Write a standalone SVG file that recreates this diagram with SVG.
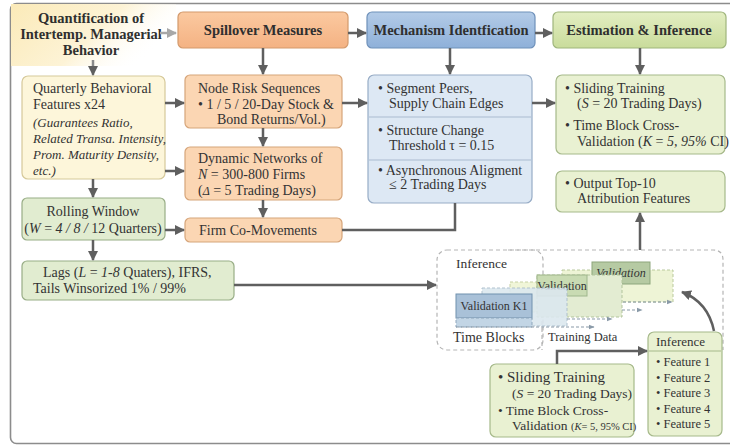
<svg xmlns="http://www.w3.org/2000/svg" width="730" height="446" viewBox="0 0 730 446">
<defs>
<linearGradient id="gY" x1="0" y1="0" x2="1" y2="0.4"><stop offset="0" stop-color="#fbeab8"/><stop offset="0.6" stop-color="#fdf3d6"/><stop offset="1" stop-color="#ffffff" stop-opacity="0"/></linearGradient>
<linearGradient id="gO" x1="0" y1="0" x2="0" y2="1"><stop offset="0" stop-color="#fbc9a0"/><stop offset="1" stop-color="#f4b283"/></linearGradient>
<linearGradient id="gB" x1="0" y1="0" x2="0" y2="1"><stop offset="0" stop-color="#b3cbe7"/><stop offset="1" stop-color="#8eb0d9"/></linearGradient>
<linearGradient id="gG" x1="0" y1="0" x2="0" y2="1"><stop offset="0" stop-color="#e3eec2"/><stop offset="1" stop-color="#c9dc9b"/></linearGradient>
<marker id="ah" viewBox="0 0 10 10" refX="9" refY="5" markerWidth="4" markerHeight="4" orient="auto"><path d="M0,0 L10,5 L0,10 z" fill="#5f5f5f"/></marker>
<marker id="ahl" viewBox="0 0 10 10" refX="9" refY="5" markerWidth="4" markerHeight="4" orient="auto"><path d="M0,0 L10,5 L0,10 z" fill="#a8a8a8"/></marker>
<marker id="ahs" viewBox="0 0 10 10" refX="9" refY="5" markerWidth="5" markerHeight="5" orient="auto"><path d="M0,1 L10,5 L0,9 z" fill="#8a9aa8"/></marker>
</defs>
<style>
text{font-family:"Liberation Serif","DejaVu Serif",serif;fill:#333;}
.t{font-size:14px;}
.h{font-size:14.5px;font-weight:bold;text-anchor:middle;fill:#2f2f2f;}
.i{font-size:13px;font-style:italic;}
.s{font-size:12.5px;}
.c{text-anchor:middle;}
.or{fill:#fbd6b3;stroke:#d6a57a;stroke-width:1.2;}
.bl{fill:#dde8f4;stroke:#97acc6;stroke-width:1.2;}
.gr{fill:#e9f1d2;stroke:#a6b98a;stroke-width:1.2;}
.gg{fill:#e1ecd0;stroke:#98ad86;stroke-width:1.2;}
.yl{fill:#fdf6da;stroke:#d6c99a;stroke-width:1.2;}
.cn{fill:none;stroke:#5f5f5f;stroke-width:2.5;}
.dsh{fill:none;stroke:#b5b5b5;stroke-width:1.2;stroke-dasharray:4 3;}
.da{fill:none;stroke:#8a9aa8;stroke-width:1.2;stroke-dasharray:3 2;}
</style>
<rect width="730" height="446" fill="#ffffff"/>
<rect x="10.5" y="3.5" width="730" height="440" rx="6" fill="none" stroke="#8c8c8c" stroke-width="1.6"/>

<g id="header-quantification">
<rect x="11" y="4" width="165" height="62" fill="url(#gY)"/>
<text class="h" x="91" y="23">Quantification of</text>
<text class="h" x="91" y="39">Intertemp. Managerial</text>
<text class="h" x="91" y="55">Behavior</text>
</g>
<g id="header-spillover">
<rect x="178" y="12" width="170" height="36" rx="5" fill="url(#gO)" stroke="#d39a6c" stroke-width="1.2"/>
<text class="h" x="263" y="35">Spillover Measures</text>
</g>
<g id="header-mechanism">
<rect x="367" y="12" width="168" height="36" rx="5" fill="url(#gB)" stroke="#6f91ba" stroke-width="1.2"/>
<text class="h" x="451" y="35">Mechanism Identfication</text>
</g>
<g id="header-estimation">
<rect x="553" y="12" width="173" height="36" rx="5" fill="url(#gG)" stroke="#9fb57c" stroke-width="1.2"/>
<text class="h" x="639" y="35">Estimation &amp; Inference</text>
</g>

<g id="quarterly">
<rect class="yl" x="22" y="76" width="143" height="103" rx="6"/>
<text class="t" x="33" y="93">Quarterly Behavioral</text>
<text class="t" x="33" y="109">Features x24</text>
<text class="i" x="33" y="127">(Guarantees Ratio,</text>
<text class="i" x="33" y="143">Related Transa. Intensity,</text>
<text class="i" x="33" y="159">Prom. Maturity Density,</text>
<text class="i" x="33" y="175">etc.)</text>
</g>
<g id="node-risk">
<rect class="or" x="185" y="75" width="157" height="53" rx="5"/>
<text class="t" x="198" y="93">Node Risk Sequences</text>
<text class="t" x="198" y="109">• 1 / 5 / 20-Day Stock &amp;</text>
<text class="t" x="217" y="124">Bond Returns/Vol.)</text>
</g>
<g id="dynamic-networks">
<rect class="or" x="185" y="147" width="157" height="53" rx="5"/>
<text class="t" x="198" y="163">Dynamic Networks of</text>
<text class="t" x="198" y="179"><tspan font-style="italic">N</tspan> = 300-800 Firms</text>
<text class="t" x="198" y="195">(<tspan font-style="italic" font-size="12">Δ</tspan> = 5 Trading Days)</text>
</g>
<g id="rolling-window">
<rect class="gg" x="22" y="198" width="143" height="42" rx="5"/>
<text class="t c" x="93" y="216">Rolling Window</text>
<text class="t c" x="93" y="233">(<tspan font-style="italic">W</tspan> = <tspan font-style="italic">4 / 8 /</tspan> 12 Quarters)</text>
</g>
<g id="firm-comovements">
<rect class="or" x="185" y="218" width="157" height="24" rx="5"/>
<text class="t" x="199" y="235">Firm Co-Movements</text>
</g>
<g id="lags">
<rect class="gg" x="22" y="261" width="212" height="39" rx="5"/>
<text class="t" x="43" y="277">Lags (<tspan font-style="italic">L</tspan> = <tspan font-style="italic">1-8</tspan> Quaters), IFRS,</text>
<text class="t" x="33" y="293">Tails Winsorized 1% / 99%</text>
</g>
<g id="mechanism-body">
<rect class="bl" x="368" y="75" width="164" height="128" rx="6"/>
<line x1="369" y1="117" x2="531" y2="117" stroke="#aabbd0" stroke-width="1"/>
<line x1="369" y1="160" x2="531" y2="160" stroke="#aabbd0" stroke-width="1"/>
<text class="t" x="378" y="93">• Segment Peers,</text>
<text class="t" x="389" y="108">Supply Chain Edges</text>
<text class="t" x="378" y="135">• Structure Change</text>
<text class="t" x="389" y="150">Threshold τ = 0.15</text>
<text class="t" x="378" y="175">• Asynchronous Aligment</text>
<text class="t" x="389" y="189">≤ 2 Trading Days</text>
</g>
<g id="sliding-upper">
<rect class="gr" x="556" y="75" width="169" height="79" rx="6"/>
<text class="t" x="565" y="93">• Sliding Training</text>
<text class="t" x="577" y="108">(<tspan font-style="italic">S</tspan> = 20 Trading Days)</text>
<text class="t" x="565" y="130">• Time Block Cross-</text>
<text class="t" x="577" y="146">Validation (<tspan font-style="italic">K</tspan> = <tspan font-style="italic">5, 95%</tspan> CI)</text>
</g>
<g id="output">
<rect class="gr" x="556" y="171" width="169" height="41" rx="6"/>
<text class="t" x="565" y="188">• Output Top-10</text>
<text class="t" x="577" y="203">Attribution Features</text>
</g>

<g id="inference-panel">
<rect class="dsh" x="437" y="250" width="106" height="100" rx="10"/>
<path class="dsh" d="M508,250 L713,250 Q723,250 723,260 L723,350"/>
<line class="dsh" x1="542" y1="300" x2="542" y2="350"/>
<text x="456" y="268" font-size="13.5">Inference</text>
<rect x="562" y="270" width="111" height="32" fill="#eef4d6" stroke="#b9c99c" stroke-dasharray="3 2"/>
<rect x="592" y="262" width="58" height="22" fill="#b6caa3" stroke="#8da67c"/>
<text x="621" y="277" font-size="12" font-style="italic" class="c" fill="#3d4a38">Validation</text>
<rect x="510" y="282" width="70" height="30" fill="#f0f5d8" stroke="#c6d1a4" stroke-dasharray="3 2"/>
<rect x="537" y="275" width="85" height="42" fill="#e3ecd2" stroke="#b1c49c" stroke-dasharray="3 2"/>
<rect x="537" y="275" width="50" height="21" fill="#c9dbb3" stroke="#9fb68c"/>
<text x="562" y="290" font-size="12" class="c">Validation</text>
<rect x="482" y="288" width="85" height="38" fill="#dce8ef" stroke="#a9bccb" stroke-dasharray="3 2" opacity="0.9"/>
<rect x="456" y="294" width="76" height="24" fill="#a9c1d8" stroke="#7191ae"/>
<rect x="456" y="318" width="76" height="9" fill="#c2d5e5" stroke="#8fa7bd" stroke-dasharray="3 2"/>
<text x="494" y="310" font-size="12" class="c">Validation K1</text>
<line class="da" x1="456" y1="327" x2="594" y2="327" marker-end="url(#ahs)"/>
<line class="da" x1="567" y1="319" x2="612" y2="319" marker-end="url(#ahs)"/>
<line class="da" x1="622" y1="310" x2="642" y2="310" marker-end="url(#ahs)"/>
<line class="da" x1="623" y1="302" x2="672" y2="302" marker-end="url(#ahs)"/>
<text x="453" y="342" font-size="14">Time Blocks</text>
<text x="548" y="341" font-size="12.5">Training Data</text>
</g>

<g id="sliding-lower">
<rect class="gr" x="490" y="364" width="144" height="73" rx="6"/>
<text x="498" y="382" font-size="15">• Sliding Training</text>
<text x="512" y="398" font-size="13.5">(<tspan font-style="italic">S</tspan> = 20 Trading Days)</text>
<text x="498" y="415" font-size="13.5">• Time Block Cross-</text>
<text x="512" y="430" font-size="13.5">Validation <tspan font-size="10.5">(<tspan font-style="italic">K</tspan>= 5, 95% CI)</tspan></text>
</g>
<g id="inference-features">
<rect class="gr" x="648" y="332" width="74" height="104" rx="6"/>
<line x1="649" y1="351" x2="721" y2="351" stroke="#a6b98a" stroke-width="1"/>
<text x="656" y="346" font-size="13">Inference</text>
<text class="s" x="656" y="366">• Feature 1</text>
<text class="s" x="656" y="382">• Feature 2</text>
<text class="s" x="656" y="397">• Feature 3</text>
<text class="s" x="656" y="413">• Feature 4</text>
<text class="s" x="656" y="428">• Feature 5</text>
</g>

<g id="connectors">
<line x1="160" y1="33" x2="176" y2="33" stroke="#a8a8a8" stroke-width="2.5" marker-end="url(#ahl)"/>
<line class="cn" x1="348" y1="33" x2="366" y2="33" marker-end="url(#ah)"/>
<line class="cn" x1="535" y1="33" x2="552" y2="33" marker-end="url(#ah)"/>
<line x1="93" y1="60" x2="93" y2="75" stroke="#8a8a8a" stroke-width="2.5" marker-end="url(#ah)"/>
<line class="cn" x1="263" y1="48" x2="263" y2="74" marker-end="url(#ah)"/>
<line class="cn" x1="450" y1="48" x2="450" y2="74" marker-end="url(#ah)"/>
<line class="cn" x1="640" y1="48" x2="640" y2="74" marker-end="url(#ah)"/>
<line class="cn" x1="165" y1="103" x2="184" y2="103" marker-end="url(#ah)"/>
<line class="cn" x1="342" y1="103" x2="367" y2="103" marker-end="url(#ah)"/>
<line class="cn" x1="532" y1="103" x2="555" y2="103" marker-end="url(#ah)"/>
<line class="cn" x1="263" y1="128" x2="263" y2="146" marker-end="url(#ah)"/>
<line class="cn" x1="165" y1="171" x2="184" y2="171" marker-end="url(#ah)"/>
<line class="cn" x1="93" y1="179" x2="93" y2="197" marker-end="url(#ah)"/>
<line class="cn" x1="263" y1="200" x2="263" y2="217" marker-end="url(#ah)"/>
<line class="cn" x1="165" y1="230" x2="184" y2="230" marker-end="url(#ah)"/>
<polyline class="cn" points="342,230 455,230 455,203"/>
<line class="cn" x1="93" y1="240" x2="93" y2="260" marker-end="url(#ah)"/>
<line class="cn" x1="234" y1="285" x2="436" y2="285" marker-end="url(#ah)"/>
<line class="cn" x1="640" y1="250" x2="640" y2="213" marker-end="url(#ah)"/>
<polyline class="cn" points="557,364 557,351 647,351" marker-end="url(#ah)"/>
<path class="cn" d="M714,331 Q708,302 682,292" marker-end="url(#ah)"/>
</g>
</svg>
